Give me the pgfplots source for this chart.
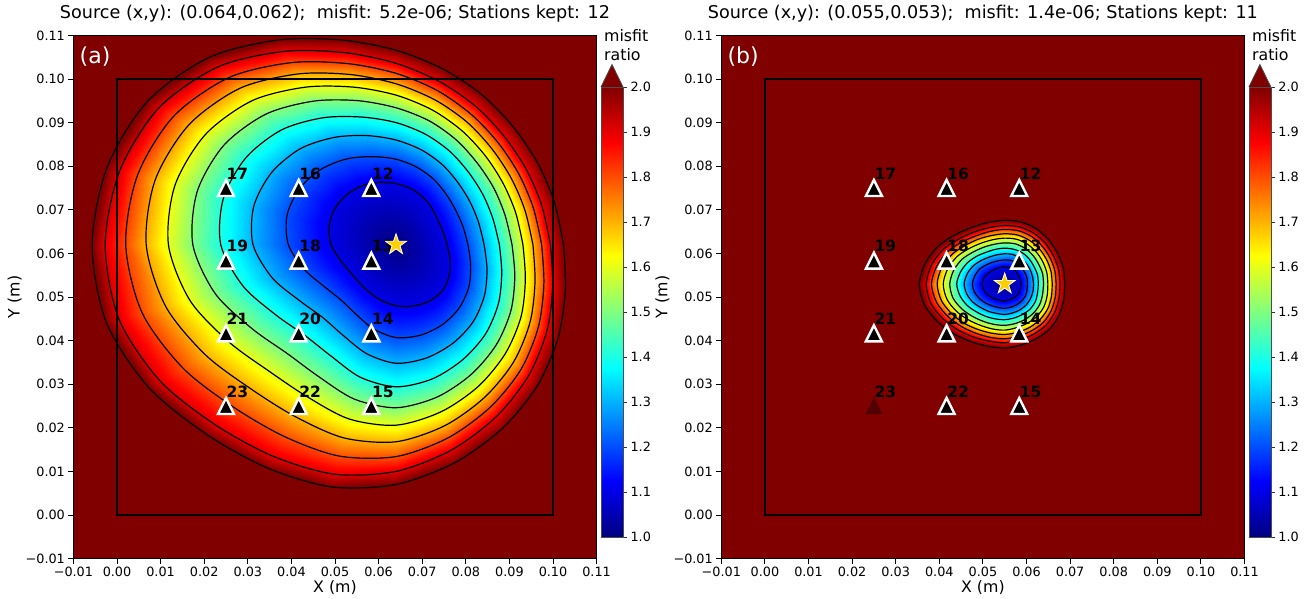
\documentclass[border=0pt]{standalone}
\usepackage{pgfplots}
\pgfplotsset{compat=1.18}
\usepackage{pgfplotstable}
\usepackage{fontspec}
\setmainfont{DejaVu Sans}
\definecolor{cbtop}{rgb}{0.5,0,0}
\definecolor{stargold}{RGB}{255,208,0}
\newcommand\fs[1]{\fontsize{#1}{#1}\selectfont}

% matplotlib-like markers
\pgfdeclareplotmark{mtri}{%
  \pgfpathmoveto{\pgfqpoint{0pt}{\pgfplotmarksize}}%
  \pgfpathlineto{\pgfqpoint{-\pgfplotmarksize}{-\pgfplotmarksize}}%
  \pgfpathlineto{\pgfqpoint{\pgfplotmarksize}{-\pgfplotmarksize}}%
  \pgfpathclose\pgfusepathqfillstroke}
\pgfdeclareplotmark{fstar}{%
  \pgfpathmoveto{\pgfpointpolar{90}{\pgfplotmarksize}}%
  \pgfpathlineto{\pgfpointpolar{126}{0.382*\pgfplotmarksize}}%
  \pgfpathlineto{\pgfpointpolar{162}{\pgfplotmarksize}}%
  \pgfpathlineto{\pgfpointpolar{198}{0.382*\pgfplotmarksize}}%
  \pgfpathlineto{\pgfpointpolar{234}{\pgfplotmarksize}}%
  \pgfpathlineto{\pgfpointpolar{270}{0.382*\pgfplotmarksize}}%
  \pgfpathlineto{\pgfpointpolar{306}{\pgfplotmarksize}}%
  \pgfpathlineto{\pgfpointpolar{342}{0.382*\pgfplotmarksize}}%
  \pgfpathlineto{\pgfpointpolar{18}{\pgfplotmarksize}}%
  \pgfpathlineto{\pgfpointpolar{54}{0.382*\pgfplotmarksize}}%
  \pgfpathclose\pgfusepathqfillstroke}

% stations (mm)
\pgfplotstableread{
x y id
58.33 75 12
58.33 58.33 13
58.33 41.67 14
58.33 25 15
41.67 75 16
25 75 17
41.67 58.33 18
25 58.33 19
41.67 41.67 20
25 41.67 21
41.67 25 22
25 25 23
}\stations

% misfit-ratio contours, panel (a): ring k (level 1+k/10), angle t (deg), radius r (mm) around the minimum
\pgfplotstableread[row sep=\\]{
k t r\\
0 0 0\\0 15 0\\0 30 0\\0 45 0\\0 60 0\\0 75 0\\0 90 0\\0 105 0\\0 120 0\\0 135 0\\0 150 0\\0 165 0\\0 180 0\\0 195 0\\0 210 0\\0 225 0\\0 240 0\\0 255 0\\0 270 0\\0 285 0\\0 300 0\\0 315 0\\0 330 0\\0 345 0\\0 360 0\\
1 0 11.7\\1 15 11.2\\1 30 11.1\\1 45 11.7\\1 60 12.5\\1 75 13.3\\1 90 14.0\\1 105 14.8\\1 120 15.6\\1 135 16.1\\1 150 16.3\\1 165 15.9\\1 180 14.9\\1 195 13.3\\1 210 12.3\\1 225 12.1\\1 240 12.5\\1 255 13.2\\1 270 14.0\\1 285 14.6\\1 300 15.0\\1 315 15.0\\1 330 14.1\\1 345 12.8\\1 360 11.7\\
2 0 16.5\\2 15 15.9\\2 30 15.8\\2 45 16.3\\2 60 17.3\\2 75 18.4\\2 90 19.6\\2 105 20.9\\2 120 22.7\\2 135 24.4\\2 150 25.6\\2 165 25.9\\2 180 24.7\\2 195 21.8\\2 210 19.1\\2 225 17.9\\2 240 18.4\\2 255 20.0\\2 270 21.3\\2 285 21.5\\2 300 21.2\\2 315 20.5\\2 330 19.3\\2 345 17.7\\2 360 16.5\\
3 0 20.2\\3 15 19.6\\3 30 19.6\\3 45 20.1\\3 60 21.2\\3 75 22.5\\3 90 24.0\\3 105 25.9\\3 120 28.4\\3 135 31.1\\3 150 33.0\\3 165 33.8\\3 180 32.8\\3 195 29.4\\3 210 25.6\\3 225 23.7\\3 240 24.1\\3 255 25.9\\3 270 27.2\\3 285 26.9\\3 300 26.1\\3 315 25.0\\3 330 23.4\\3 345 21.6\\3 360 20.2\\
4 0 23.7\\4 15 23.0\\4 30 23.0\\4 45 23.5\\4 60 24.7\\4 75 26.2\\4 90 28.0\\4 105 30.3\\4 120 33.6\\4 135 37.2\\4 150 39.8\\4 165 41.0\\4 180 40.2\\4 195 36.4\\4 210 32.0\\4 225 29.5\\4 240 29.6\\4 255 31.5\\4 270 32.6\\4 285 31.9\\4 300 30.5\\4 315 29.0\\4 330 27.1\\4 345 25.1\\4 360 23.7\\
5 0 26.6\\5 15 25.9\\5 30 25.9\\5 45 26.4\\5 60 27.7\\5 75 29.4\\5 90 31.4\\5 105 34.2\\5 120 38.0\\5 135 42.3\\5 150 45.6\\5 165 47.2\\5 180 46.6\\5 195 43.0\\5 210 38.3\\5 225 35.3\\5 240 35.1\\5 255 36.7\\5 270 37.4\\5 285 36.2\\5 300 34.4\\5 315 32.5\\5 330 30.4\\5 345 28.2\\5 360 26.6\\
6 0 29.1\\6 15 28.4\\6 30 28.3\\6 45 28.9\\6 60 30.2\\6 75 32.0\\6 90 34.3\\6 105 37.4\\6 120 41.7\\6 135 46.7\\6 150 50.5\\6 165 52.5\\6 180 52.2\\6 195 49.0\\6 210 44.4\\6 225 41.1\\6 240 40.4\\6 255 41.4\\6 270 41.4\\6 285 39.7\\6 300 37.6\\6 315 35.4\\6 330 33.1\\6 345 30.7\\6 360 29.1\\
7 0 31.4\\7 15 30.6\\7 30 30.5\\7 45 31.1\\7 60 32.5\\7 75 34.4\\7 90 36.9\\7 105 40.4\\7 120 45.2\\7 135 50.7\\7 150 54.9\\7 165 57.2\\7 180 57.3\\7 195 54.7\\7 210 50.5\\7 225 46.9\\7 240 45.7\\7 255 45.9\\7 270 45.2\\7 285 43.0\\7 300 40.5\\7 315 38.1\\7 330 35.5\\7 345 33.0\\7 360 31.4\\
8 0 33.4\\8 15 32.6\\8 30 32.5\\8 45 33.1\\8 60 34.5\\8 75 36.6\\8 90 39.3\\8 105 43.0\\8 120 48.2\\8 135 54.2\\8 150 58.9\\8 165 61.4\\8 180 62.0\\8 195 60.3\\8 210 56.5\\8 225 52.7\\8 240 50.9\\8 255 50.2\\8 270 48.6\\8 285 45.9\\8 300 43.1\\8 315 40.5\\8 330 37.7\\8 345 35.1\\8 360 33.4\\
9 0 35.4\\9 15 34.6\\9 30 34.5\\9 45 35.1\\9 60 36.6\\9 75 38.7\\9 90 41.6\\9 105 45.6\\9 120 51.2\\9 135 57.7\\9 150 62.8\\9 165 65.6\\9 180 66.7\\9 195 65.8\\9 210 62.5\\9 225 58.5\\9 240 56.1\\9 255 54.5\\9 270 52.0\\9 285 48.8\\9 300 45.7\\9 315 42.8\\9 330 39.9\\9 345 37.2\\9 360 35.4\\
10 0 38.4\\10 15 37.6\\10 30 37.5\\10 45 38.1\\10 60 39.6\\10 75 41.7\\10 90 44.6\\10 105 48.6\\10 120 54.2\\10 135 60.7\\10 150 65.8\\10 165 68.6\\10 180 69.7\\10 195 68.8\\10 210 65.5\\10 225 61.5\\10 240 59.1\\10 255 57.5\\10 270 55.0\\10 285 51.8\\10 300 48.7\\10 315 45.8\\10 330 42.9\\10 345 40.2\\10 360 38.4\\
}\fa

% panel (b), same layout
\pgfplotstableread[row sep=\\]{
k t r\\
0 0 0\\0 15 0\\0 30 0\\0 45 0\\0 60 0\\0 75 0\\0 90 0\\0 105 0\\0 120 0\\0 135 0\\0 150 0\\0 165 0\\0 180 0\\0 195 0\\0 210 0\\0 225 0\\0 240 0\\0 255 0\\0 270 0\\0 285 0\\0 300 0\\0 315 0\\0 330 0\\0 345 0\\0 360 0\\
1 0 3.7\\1 15 3.7\\1 30 3.7\\1 45 3.8\\1 60 3.9\\1 75 3.9\\1 90 3.9\\1 105 3.9\\1 120 4.0\\1 135 4.2\\1 150 4.6\\1 165 5.0\\1 180 5.2\\1 195 5.0\\1 210 4.7\\1 225 4.3\\1 240 4.1\\1 255 3.9\\1 270 3.9\\1 285 3.8\\1 300 3.8\\1 315 3.9\\1 330 3.8\\1 345 3.7\\1 360 3.7\\
2 0 5.2\\2 15 5.3\\2 30 5.3\\2 45 5.4\\2 60 5.5\\2 75 5.6\\2 90 5.5\\2 105 5.5\\2 120 5.7\\2 135 6.1\\2 150 6.7\\2 165 7.1\\2 180 7.4\\2 195 7.2\\2 210 6.7\\2 225 6.2\\2 240 5.8\\2 255 5.6\\2 270 5.6\\2 285 5.5\\2 300 5.5\\2 315 5.5\\2 330 5.5\\2 345 5.3\\2 360 5.2\\
3 0 6.6\\3 15 6.6\\3 30 6.7\\3 45 6.8\\3 60 6.9\\3 75 7.0\\3 90 6.9\\3 105 6.9\\3 120 7.1\\3 135 7.6\\3 150 8.3\\3 165 8.9\\3 180 9.3\\3 195 9.0\\3 210 8.4\\3 225 7.7\\3 240 7.3\\3 255 7.0\\3 270 7.0\\3 285 6.9\\3 300 6.9\\3 315 6.9\\3 330 6.8\\3 345 6.7\\3 360 6.6\\
4 0 7.7\\4 15 7.8\\4 30 7.8\\4 45 8.0\\4 60 8.2\\4 75 8.2\\4 90 8.2\\4 105 8.2\\4 120 8.4\\4 135 9.0\\4 150 9.8\\4 165 10.5\\4 180 11.0\\4 195 10.6\\4 210 9.9\\4 225 9.1\\4 240 8.6\\4 255 8.3\\4 270 8.2\\4 285 8.1\\4 300 8.1\\4 315 8.2\\4 330 8.1\\4 345 7.8\\4 360 7.7\\
5 0 8.9\\5 15 9.0\\5 30 9.0\\5 45 9.2\\5 60 9.4\\5 75 9.5\\5 90 9.4\\5 105 9.4\\5 120 9.7\\5 135 10.3\\5 150 11.3\\5 165 12.1\\5 180 12.6\\5 195 12.3\\5 210 11.4\\5 225 10.5\\5 240 9.9\\5 255 9.6\\5 270 9.5\\5 285 9.4\\5 300 9.4\\5 315 9.4\\5 330 9.3\\5 345 9.0\\5 360 8.9\\
6 0 9.9\\6 15 10.0\\6 30 10.1\\6 45 10.3\\6 60 10.5\\6 75 10.6\\6 90 10.5\\6 105 10.5\\6 120 10.8\\6 135 11.5\\6 150 12.6\\6 165 13.5\\6 180 14.1\\6 195 13.7\\6 210 12.7\\6 225 11.7\\6 240 11.0\\6 255 10.7\\6 270 10.6\\6 285 10.4\\6 300 10.4\\6 315 10.5\\6 330 10.4\\6 345 10.1\\6 360 9.9\\
7 0 10.9\\7 15 11.0\\7 30 11.1\\7 45 11.3\\7 60 11.5\\7 75 11.6\\7 90 11.5\\7 105 11.5\\7 120 11.9\\7 135 12.6\\7 150 13.8\\7 165 14.9\\7 180 15.5\\7 195 15.0\\7 210 13.9\\7 225 12.9\\7 240 12.1\\7 255 11.7\\7 270 11.6\\7 285 11.5\\7 300 11.5\\7 315 11.5\\7 330 11.4\\7 345 11.1\\7 360 10.9\\
8 0 11.8\\8 15 11.9\\8 30 12.0\\8 45 12.2\\8 60 12.5\\8 75 12.6\\8 90 12.5\\8 105 12.5\\8 120 12.8\\8 135 13.7\\8 150 15.0\\8 165 16.1\\8 180 16.8\\8 195 16.2\\8 210 15.0\\8 225 13.9\\8 240 13.1\\8 255 12.7\\8 270 12.6\\8 285 12.4\\8 300 12.4\\8 315 12.5\\8 330 12.3\\8 345 12.0\\8 360 11.8\\
9 0 12.7\\9 15 12.8\\9 30 12.9\\9 45 13.2\\9 60 13.4\\9 75 13.5\\9 90 13.4\\9 105 13.4\\9 120 13.8\\9 135 14.7\\9 150 16.1\\9 165 17.3\\9 180 18.0\\9 195 17.5\\9 210 16.2\\9 225 15.0\\9 240 14.1\\9 255 13.6\\9 270 13.5\\9 285 13.3\\9 300 13.3\\9 315 13.4\\9 330 13.2\\9 345 12.9\\9 360 12.7\\
10 0 13.8\\10 15 13.9\\10 30 14.0\\10 45 14.3\\10 60 14.6\\10 75 14.7\\10 90 14.6\\10 105 14.6\\10 120 15.0\\10 135 16.0\\10 150 17.5\\10 165 18.8\\10 180 19.6\\10 195 19.0\\10 210 17.6\\10 225 16.3\\10 240 15.3\\10 255 14.8\\10 270 14.7\\10 285 14.5\\10 300 14.5\\10 315 14.6\\10 330 14.4\\10 345 14.0\\10 360 13.8\\
}\fb

\pgfplotsset{
  /pgfplots/table/polA/.style={x expr={64+\thisrow{r}*cos(\thisrow{t})}, y expr={62+\thisrow{r}*sin(\thisrow{t})}},
  /pgfplots/table/polB/.style={x expr={55+\thisrow{r}*cos(\thisrow{t})}, y expr={53+\thisrow{r}*sin(\thisrow{t})}},
  myaxis/.style={
    width=523.2pt, height=523.2pt, scale only axis,
    xmin=-10, xmax=110, ymin=-10, ymax=110,
    xtick={-10,0,10,20,30,40,50,60,70,80,90,100,110},
    ytick={-10,0,10,20,30,40,50,60,70,80,90,100,110},
    xticklabels={−0.01,0.00,0.01,0.02,0.03,0.04,0.05,0.06,0.07,0.08,0.09,0.10,0.11},
    yticklabels={−0.01,0.00,0.01,0.02,0.03,0.04,0.05,0.06,0.07,0.08,0.09,0.10,0.11},
    tick pos=left, tick align=outside, major tick length=5pt,
    tick style={black, line width=0.9pt},
    axis line style={black, line width=0.9pt},
    tick label style={font=\fs{12.8}},
    label style={font=\fs{15.8}},
    xlabel={X (m)}, ylabel={Y (m)},
    xlabel style={at={(axis description cs:0.5,-0.064)}, anchor=base},
    ylabel style={at={(axis description cs:-0.103,0.5)}, anchor=base},
    title style={at={(axis description cs:0.5,1.0199)}, anchor=base, font=\fs{17.6}},
    axis background/.style={fill=cbtop},
    colormap/jet,
    point meta min=1, point meta max=2,
  },
  cbaxis/.style={
    scale only axis, width=22pt, height=450pt,
    xmin=0, xmax=1, ymin=1, ymax=2, axis on top,
    xtick=\empty,
    ytick={1,1.1,1.2,1.3,1.4,1.5,1.6,1.7,1.8,1.9,2},
    yticklabels={1.0,1.1,1.2,1.3,1.4,1.5,1.6,1.7,1.8,1.9,2.0},
    ytick pos=right, yticklabel pos=right, tick align=outside, major tick length=4pt,
    axis line style={black!70, line width=0.8pt}, tick style={black!80, line width=0.8pt},
    yticklabel style={font=\fs{12.8}},
    colormap/jet, point meta min=1, point meta max=2,
  },
  contourline/.style={black, line width=1.2pt, smooth},
  stamark/.style={only marks, mark=mtri, mark size=8pt, mark options={fill=black, draw=white, line width=2.4pt}},
  stalabel/.style={draw=none, mark=none, point meta=explicit symbolic, nodes near coords,
    every node near coord/.append style={anchor=south west, inner sep=0pt, xshift=0.5pt, yshift=8.5pt, font=\bfseries\fs{15.5}, text=black}},
  starmark/.style={only marks, mark=fstar, mark size=11pt, mark options={fill=stargold, draw=white, line width=0.8pt}},
}

\begin{document}
\begin{tikzpicture}
\useasboundingbox (0,0) rectangle (1309pt,599pt);

% ---------- panel (a)
\begin{axis}[myaxis, at={(73.4pt,40.4pt)}, anchor=south west,
  title={Source (x,y): (0.064,0.062);~ misfit: 5.2e-06; Stations kept: 12}]
\addplot[surf, shader=interp, mesh/rows=11, mesh/cols=25, point meta={1+0.1*\thisrow{k}}] table[polA] {\fa};
\pgfplotsinvokeforeach{1,...,10}{
  \addplot[contourline, restrict expr to domain={\thisrow{k}}{#1:#1}] table[polA] {\fa};
}
\addplot[black, line width=2.6pt] coordinates {(0,0) (100,0) (100,100) (0,100) (0,0) (100,0)};
\addplot[stamark] table[x=x, y=y] {\stations};
\addplot[stalabel] table[x=x, y=y, meta=id] {\stations};
\addplot[starmark] coordinates {(64,62)};
\node[anchor=west, inner sep=0pt, text=white, font=\fs{22}] at (axis cs:-8.6,105.1) {(a)};
\end{axis}

\begin{axis}[cbaxis, at={(601pt,62pt)}, anchor=south west]
\addplot[surf, shader=interp, mesh/cols=2, point meta=y] coordinates {
  (0,1) (1,1) (0,1.1) (1,1.1) (0,1.2) (1,1.2) (0,1.3) (1,1.3) (0,1.4) (1,1.4) (0,1.5) (1,1.5)
  (0,1.6) (1,1.6) (0,1.7) (1,1.7) (0,1.8) (1,1.8) (0,1.9) (1,1.9) (0,2) (1,2)};
\end{axis}
\filldraw[fill=cbtop, draw=black!70, line width=0.8pt] (601pt,512pt) -- (612pt,534.5pt) -- (623pt,512pt);
\node[anchor=base west, inner sep=0pt, font=\fs{15.8}] at (604pt,538.5pt) {ratio};
\node[anchor=base west, inner sep=0pt, font=\fs{15.8}] at (604pt,557pt) {misfit};

% ---------- panel (b)
\begin{axis}[myaxis, at={(721.3pt,40.4pt)}, anchor=south west,
  title={Source (x,y): (0.055,0.053);~ misfit: 1.4e-06; Stations kept: 11}]
\addplot[surf, shader=interp, mesh/rows=11, mesh/cols=25, point meta={1+0.1*\thisrow{k}}] table[polB] {\fb};
\pgfplotsinvokeforeach{1,...,10}{
  \addplot[contourline, restrict expr to domain={\thisrow{k}}{#1:#1}] table[polB] {\fb};
}
\addplot[black, line width=2.6pt] coordinates {(0,0) (100,0) (100,100) (0,100) (0,0) (100,0)};
\addplot[stamark, restrict expr to domain={\thisrow{id}}{12:22}] table[x=x, y=y] {\stations};
\addplot[stamark, mark options={opacity=0.35}, restrict expr to domain={\thisrow{id}}{23:23}] table[x=x, y=y] {\stations};
\addplot[stalabel] table[x=x, y=y, meta=id] {\stations};
\addplot[starmark] coordinates {(55,53)};
\node[anchor=west, inner sep=0pt, text=white, font=\fs{22}] at (axis cs:-8.6,105.1) {(b)};
\end{axis}

\begin{axis}[cbaxis, at={(1248.9pt,62pt)}, anchor=south west]
\addplot[surf, shader=interp, mesh/cols=2, point meta=y] coordinates {
  (0,1) (1,1) (0,1.1) (1,1.1) (0,1.2) (1,1.2) (0,1.3) (1,1.3) (0,1.4) (1,1.4) (0,1.5) (1,1.5)
  (0,1.6) (1,1.6) (0,1.7) (1,1.7) (0,1.8) (1,1.8) (0,1.9) (1,1.9) (0,2) (1,2)};
\end{axis}
\filldraw[fill=cbtop, draw=black!70, line width=0.8pt] (1248.9pt,512pt) -- (1259.9pt,534.5pt) -- (1270.9pt,512pt);
\node[anchor=base west, inner sep=0pt, font=\fs{15.8}] at (1251.9pt,538.5pt) {ratio};
\node[anchor=base west, inner sep=0pt, font=\fs{15.8}] at (1251.9pt,557pt) {misfit};
\end{tikzpicture}
\end{document}
